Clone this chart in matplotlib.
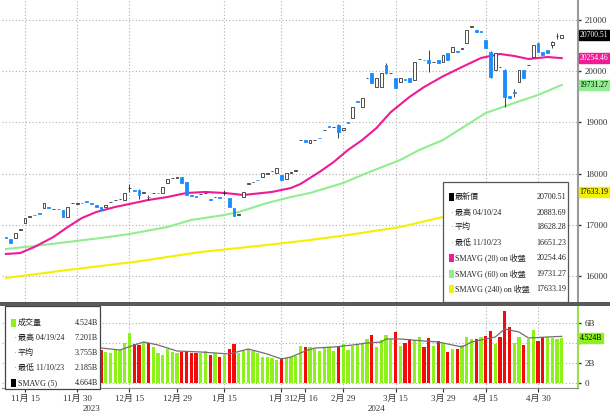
"""
TAIEX daily candles with SMAVG lines + volume panel (Bloomberg-style)
"""

import numpy as np
import matplotlib
matplotlib.use("Agg")
import matplotlib.pyplot as plt
from matplotlib.patches import Rectangle
from matplotlib import font_manager

# ── Data, trading days 2023-11-09 .. 2024-05-08 ──
opens = [
    16760, 16720, 16742, 16900, 17035, 17160, 17200, 17230, 17328, 17350,
    17300, 17310, 17289, 17153, 17420, 17410, 17426, 17460, 17430, 17380,
    17348, 17340, 17440, 17480, 17500, 17485, 17710, 17670, 17680, 17630,
    17545, 17615, 17625, 17621, 17817, 17910, 17915, 17934, 17836, 17575,
    17560, 17600, 17615, 17500, 17540, 17540, 17615, 17524, 17328, 17190,
    17543, 17800, 17836, 17880, 17934, 18000, 18045, 18012, 17973, 17895,
    18020, 18060, 18650, 18656, 18598, 18650, 18700, 18845, 18930, 18905,
    18949, 18860, 19010, 19086, 19420, 19301, 19860, 19965, 19691, 19691,
    20121, 19960, 19867, 19789, 19850, 19867, 19828, 20230, 20225, 20219,
    20175, 20219, 20180, 20356, 20375, 20400, 20440, 20551, 20870, 20800,
    20790, 20609, 20375, 20024, 20080, 20024, 19510, 19600, 19789, 20024,
    20115, 20277, 20551, 20375, 20414, 20512, 20680, 20648]
closes = [
    16742, 16651.23, 16840, 16918, 17133, 17172, 17192, 17211, 17426, 17328,
    17309, 17300, 17153, 17348, 17426, 17430, 17420, 17440, 17406, 17348,
    17289, 17387, 17446, 17485, 17504, 17621, 17719, 17660, 17582, 17641,
    17543, 17621, 17621, 17739, 17895, 17914, 17930.81, 17817, 17582, 17563,
    17543, 17602, 17621, 17485, 17543, 17524, 17621, 17348, 17172, 17211,
    17641, 17817, 17840, 17875, 18012, 18012, 18051, 18110, 17875, 18012,
    18032, 18071, 18656, 18617, 18656, 18656, 18696, 18852, 18910, 18910,
    18813, 18891, 18988, 19301, 19398, 19477, 19867, 19770, 19867, 19965,
    19965, 19965, 19672, 19867, 19828, 19789, 20180, 20238, 20219, 20160,
    20180, 20160, 20316, 20219, 20473, 20375, 20453, 20805, 20883.69, 20766,
    20766, 20453, 19887, 20356, 20082, 19496, 19477, 19574, 20024, 19867,
    20121, 20512, 20375, 20316, 20356, 20570, 20688, 20700.51]

# visible wicks
wick_idx = [26, 28, 30, 46, 70, 80, 89, 102, 105, 107, 115, 116]
wick_hi  = [17800, 17700, 17580, 17680, 18960, 20160, 20414, 20400, 20050, 19650, 20590, 20750]
wick_lo  = [17640, 17500, 17480, 17580, 18690, 19940, 19984, 19867, 19301, 19500, 20460, 20620]

# moving averages
ma20_idx = [0, 3, 6, 10, 13, 16, 19, 23, 27, 30, 34, 38, 42, 46, 48, 50, 52, 56, 60, 62,
            64, 66, 69, 72, 75, 78, 81, 85, 88, 92, 96, 100, 104, 107, 110, 114, 117]
ma20 = [16430, 16449, 16567, 16762, 16957, 17133, 17250, 17348, 17426, 17485,
        17543, 17621, 17641, 17621, 17602, 17582, 17602, 17641, 17719, 17797,
        17914, 18032, 18227, 18461, 18656, 18891, 19200, 19500, 19690, 19900,
        20082, 20258, 20336, 20297, 20238, 20277, 20254.46]
ma60_idx = [0, 6, 13, 20, 26, 34, 39, 46, 49, 55, 60, 64, 71, 76, 83, 87, 92, 101, 107, 112, 117]
ma60 = [16527, 16586, 16664, 16742, 16820, 16957, 17094, 17192, 17250, 17426,
        17543, 17621, 17817, 18012, 18266, 18461, 18656, 19184, 19379, 19535, 19731.27]
ma240_idx = [0, 13, 27, 41, 55, 64, 72, 83, 92, 117]
ma240 = [15961, 16118, 16274, 16469, 16606, 16703, 16801, 16957, 17153, 17633.19]

# volume (billions), visible bars from index 20
vol_start = 20
volumes = [
    3.3, 3.1, 3.0, 3.3, 3.3, 4.0, 5.0, 3.9, 3.8, 4.1,
    4.0, 3.6, 3.0, 2.8, 3.4, 3.1, 3.0, 3.1, 3.1, 3.0,
    3.0, 3.0, 3.2, 2.8, 3.0, 2.6, 2.8, 3.4, 3.9, 3.0,
    3.2, 3.4, 3.2, 3.0, 2.6, 2.6, 2.5, 2.3, 2.5, 2.5,
    2.6, 2.7, 3.7, 3.6, 3.6, 3.4, 3.2, 3.5, 3.6, 3.2,
    3.7, 3.9, 3.3, 3.7, 3.9, 4.0, 4.4, 4.8, 3.6, 4.3,
    4.8, 4.4, 5.1, 3.7, 4.0, 4.4, 4.3, 4.6, 3.6, 4.5,
    3.7, 4.2, 4.0, 3.1, 3.4, 3.4, 3.8, 4.6, 4.4, 4.4,
    4.6, 4.7, 5.2, 3.9, 4.6, 7.201, 5.6, 4.0, 4.6, 3.8,
    4.4, 5.3, 4.2, 4.6, 4.6, 4.5, 4.4, 4.524]
vsma_idx = [20, 24, 27, 29, 32, 36, 41, 47, 51, 55, 58, 60, 63, 65, 69, 73, 76, 79, 80, 83,
            88, 91, 96, 98, 103, 105, 108, 110, 114, 117]
vsma = [3.5, 3.3, 3.8, 4.1, 3.8, 3.2, 3.1, 2.9, 3.4, 2.9,
        2.4, 2.6, 3.2, 3.5, 3.6, 3.8, 4.0, 4.1, 4.4, 4.4,
        4.2, 4.1, 3.6, 4.1, 4.6, 5.4, 5.1, 4.5, 4.6, 4.664]

tick_idx    = [4, 15, 26, 36, 46, 58, 63, 71, 82, 92, 101, 112]
tick_labels = ["11月 15", "11月 30", "12月 15", "12月 29", "1月 15", "1月 31",
               "2月 16", "2月 29", "3月 15", "3月 29", "4月 15", "4月 30"]
grid_idx    = [4, 15, 26, 46, 58, 71, 82, 101, 112]

legend_labels = ["最新價", "最高 04/10/24", "平均", "最低 11/10/23",
                 "SMAVG (20) on 收盤", "SMAVG (60) on 收盤", "SMAVG (240) on 收盤"]
legend_values = ["20700.51", "20883.69", "18628.28", "16651.23",
                 "20254.46", "19731.27", "17633.19"]
vlegend_labels = ["成交量", "最高 04/19/24", "平均", "最低 11/10/23", "SMAVG (5)"]
vlegend_values = ["4.524B", "7.201B", "3.755B", "2.185B", "4.664B"]

# ── Style ──────────────────────────────────────────────────
names = {f.name for f in font_manager.fontManager.ttflist}
LATIN = "Liberation Serif" if "Liberation Serif" in names else "DejaVu Sans"
CJK = "Noto Sans CJK TC"
plt.rcParams["font.family"] = [LATIN, CJK]
FS = 5.8

BLUE = "#1a8cff"; MAGENTA = "#ee1a96"; LGREEN = "#90ee90"; YELLOW = "#f5f000"
LIME = "#8cf21a"; RED = "#f50a0a"; GRID = "#b0b0b0"

W, H = 610, 418
def fx(px): return px / W
def fy(py): return 1 - py / H

fig = plt.figure(figsize=(6.1, 4.18), dpi=100)
ax  = fig.add_axes([fx(2), fy(302), 576 / W, 307 / H])
axv = fig.add_axes([fx(2), fy(388), 576 / W, 82 / H])

# ── Candles ────────────────────────────────────────────────
o = np.array(opens); c = np.array(closes)
idx = np.arange(len(c))
up = c >= o
ax.vlines(wick_idx, wick_lo, wick_hi, color="#222222", lw=0.6, zorder=3)
ax.bar(idx[up], (c - o)[up], bottom=o[up], width=0.62, facecolor="white",
       edgecolor="#333333", lw=0.6, zorder=4)
ax.bar(idx[~up], (c - o)[~up], bottom=o[~up], width=0.62, color=BLUE,
       edgecolor=BLUE, lw=0.6, zorder=4)

ax.plot(ma240_idx, ma240, color=YELLOW, lw=1.5, zorder=2)
ax.plot(ma60_idx, ma60, color=LGREEN, lw=1.5, zorder=2)
ax.plot(ma20_idx, ma20, color=MAGENTA, lw=1.5, zorder=2)

# ── Volume ─────────────────────────────────────────────────
vol_x = np.arange(vol_start, vol_start + len(volumes))
vcol = [RED if closes[i] < closes[i - 1] else LIME for i in vol_x]
axv.bar(vol_x, volumes, width=0.68, color=vcol, zorder=2)
axv.plot(vsma_idx, vsma, color="#707070", lw=0.9, zorder=3)

# ── Axes cosmetics ─────────────────────────────────────────
for a in (ax, axv):
    a.set_xlim(-0.84, 120.42)
    for s in ("top", "left", "bottom"):
        a.spines[s].set_visible(False)
    a.yaxis.tick_right()
    a.tick_params(axis="y", length=2, width=1, pad=3, labelsize=6.5, colors="#333333")
    a.grid(axis="y", ls=(0, (1, 2)), color=GRID, lw=0.8)
    for g in grid_idx:
        a.axvline(g, ls=(0, (1, 2)), color=GRID, lw=0.8, zorder=1)

ax.set_ylim(15492, 21488)
ax.set_yticks(range(16000, 21001, 1000))
ax.tick_params(axis="x", bottom=False, labelbottom=False)
ax.spines["right"].set_color("#9a9a9a"); ax.spines["right"].set_linewidth(1.5)

axv.set_ylim(-0.5, 7.7)
axv.set_yticks([0, 2, 4, 6], ["0", "2B", "", "6B"])   # 4B sits under the value tag
axv.spines["right"].set_color("#99e04d"); axv.spines["right"].set_linewidth(1.5)
axv.spines["bottom"].set_visible(True); axv.spines["bottom"].set_color("#888888")
axv.set_xticks(tick_idx, tick_labels)
axv.tick_params(axis="x", length=3, width=0.8, pad=2, labelsize=6.5, colors="#333333")

fig.text(fx(92), fy(409), "2023", ha="center", va="center", fontsize=6.5, color="#333333")
fig.text(fx(377), fy(409), "2024", ha="center", va="center", fontsize=6.5, color="#333333")

# ── Right-hand value tags ─────────────────────────────────
def tag(a, val, text, fc, tc):
    a.text(1.003, val, text, transform=a.get_yaxis_transform(), ha="left", va="center",
           fontsize=5.5, color=tc, zorder=10, clip_on=False,
           bbox=dict(boxstyle="square,pad=0.12", fc=fc, ec=fc))

tag(ax, closes[-1], legend_values[0], "black", "white")
tag(ax, ma20[-1], legend_values[4], MAGENTA, "white")
tag(ax, ma60[-1], legend_values[5], LGREEN, "black")
tag(ax, ma240[-1], legend_values[6], YELLOW, "black")
tag(axv, volumes[-1], vlegend_values[0], LIME, "black")

# ── Legend boxes ──────────────────────────────────────────
fig.add_artist(Rectangle((fx(443), fy(302)), 125 / W, 120 / H, transform=fig.transFigure,
                         fc="white", ec="#555555", lw=0.9, zorder=5))
main_marks = ["black", None, None, None, MAGENTA, LGREEN, YELLOW]
for k, (lab, val, mc) in enumerate(zip(legend_labels, legend_values, main_marks)):
    yy = [197, 213, 227, 243, 258, 274, 289][k]
    if mc:
        fig.add_artist(Rectangle((fx(449), fy(yy + 4)), 5 / W, 8 / H, transform=fig.transFigure,
                                 fc=mc, ec="none", zorder=6))
    else:
        fig.text(fx(451), fy(yy), "·", ha="center", va="center", fontsize=6, color="#999999", zorder=6)
    fig.text(fx(455), fy(yy), lab, ha="left", va="center", fontsize=FS, color="#222222", zorder=6)
    fig.text(fx(566), fy(yy), val, ha="right", va="center", fontsize=FS, color="#222222", zorder=6)

fig.add_artist(Rectangle((0, fy(306)), 1, 4 / H, transform=fig.transFigure,
                         fc="#5a5a5a", ec="none", zorder=7))

fig.add_artist(Rectangle((fx(5), fy(389)), 95 / W, 83 / H, transform=fig.transFigure,
                         fc="white", ec="#444444", lw=0.9, zorder=5))
vol_marks = [LIME, None, None, None, "black"]
for k, (lab, val, mc) in enumerate(zip(vlegend_labels, vlegend_values, vol_marks)):
    yy = [323, 338, 353, 368, 383][k]
    if mc:
        fig.add_artist(Rectangle((fx(11), fy(yy + 4)), 5 / W, 8 / H, transform=fig.transFigure,
                                 fc=mc, ec="none", zorder=6))
    else:
        fig.text(fx(14), fy(yy), "·", ha="center", va="center", fontsize=6, color="#999999", zorder=6)
    fig.text(fx(18), fy(yy), lab, ha="left", va="center", fontsize=FS, color="#222222", zorder=6)
    fig.text(fx(98), fy(yy), val, ha="right", va="center", fontsize=FS, color="#222222", zorder=6)

fig.savefig("out.png", dpi=100, facecolor="white")
